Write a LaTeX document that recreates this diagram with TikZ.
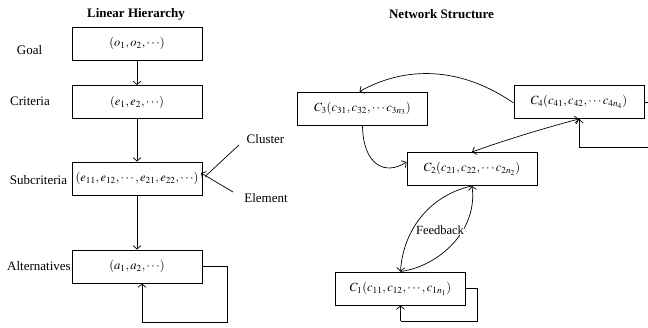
\documentclass[tikz,border=0pt]{standalone}
\usepackage{mathptmx}
\usepackage{fontspec}
\setmainfont{Liberation Serif}
\usetikzlibrary{arrows.meta}
\tikzset{
  box/.style={draw, line width=0.9pt, minimum width=130pt, minimum height=33pt, inner sep=0pt, font=\fontsize{12.5}{14}\selectfont},
  lbl/.style={inner sep=0pt, font=\fontsize{13}{15}\selectfont},
  ttl/.style={inner sep=0pt, font=\fontsize{13}{15}\selectfont\bfseries},
  arr/.style={-{Straight Barb[length=3.5pt,width=8pt]}, line width=0.7pt},
  dbl/.style={{Straight Barb[length=3.5pt,width=8pt]}-{Straight Barb[length=3.5pt,width=8pt]}, line width=0.7pt},
  ln/.style={line width=0.7pt}
}
\begin{document}
\begin{tikzpicture}[x=1pt,y=-1pt]
\clip (0,0) rectangle (648,328);
\fill[white] (0,0) rectangle (648,328);
% titles
\node[ttl] (t1) at (136,14) {Linear Hierarchy};
\node[ttl] (t2) at (441.5,14) {Network Structure};
% left boxes
\node[box] (goal) at (137,43.5) {$(o_1,o_2,\cdots)$};
\node[box] (crit) at (137,102) {$(e_1,e_2,\cdots)$};
\node[box] (sub) at (137,178.5) {$(e_{11},e_{12},\cdots,e_{21},e_{22},\cdots)$};
\node[box] (alt) at (137,266.5) {$(a_1,a_2,\cdots)$};
% left labels
\node[lbl] (lgoal) at (29.5,50) {Goal};
\node[lbl] (lcrit) at (30,101) {Criteria};
\node[lbl] (lsub) at (38.5,180) {Subcriteria};
\node[lbl] (lalt) at (39,266) {Alternatives};
\node[lbl] (cl) at (265.5,139) {Cluster};
\node[lbl] (el) at (266,198) {Element};
% left arrows
\draw[arr] (goal) -- (crit);
\draw[arr] (crit) -- (sub);
\draw[arr] (sub) -- (alt);
\draw[ln] (alt.east) -- (227,266.5) |- (142,322) -- ([xshift=5pt]alt.south);
\draw[arr] ([xshift=5pt]alt.south) ++(0,39) -- ([xshift=5pt]alt.south);
\coordinate (tip) at (201,173);
\coordinate (cj) at (205,176.5);
\draw[ln] (239,145) -- (cj);
\draw[arr] (233,192) -- (tip);
% right boxes
\node[box] (c3) at (362.5,108.5) {$C_3(c_{31},c_{32},\cdots c_{3n_3})$};
\node[box] (c4) at (579,102) {$C_4(c_{41},c_{42},\cdots c_{4n_4})$};
\node[box] (c2) at (472,169) {$C_2(c_{21},c_{22},\cdots c_{2n_2})$};
\node[box] (c1) at (400.5,288.5) {$C_1(c_{11},c_{12},\cdots,c_{1n_1})$};
% right arrows
\draw[arr] ([yshift=-1pt]c4.west) .. controls (460,66) and (405,66) .. ([xshift=-3pt]c3.north);
\draw[arr] (c3.south) .. controls (363,165) and (385,176) .. ([yshift=7pt]c2.west);
\draw[dbl] (c2.north) .. controls (505,140) and (545,128) .. (c4.south);
\draw[ln] (c4.east) -- (660,102) |- (579,147) -- (c4.south);
\draw[arr] (579,147) -- (c4.south);
\draw[arr] (c2.south) .. controls (430,195) and (403,230) .. (c1.north);
\draw[arr] (c1.north) .. controls (440,266) and (478,230) .. (c2.south);
\node[lbl, font=\fontsize{12.5}{14}\selectfont, fill=white, inner sep=0.5pt] (fb) at (440,230) {Feedback};
\draw[ln] (c1.east) -- (477,288.5) |- (400.5,321);
\draw[arr] (400.5,321) -- (c1.south);
\end{tikzpicture}
\end{document}
